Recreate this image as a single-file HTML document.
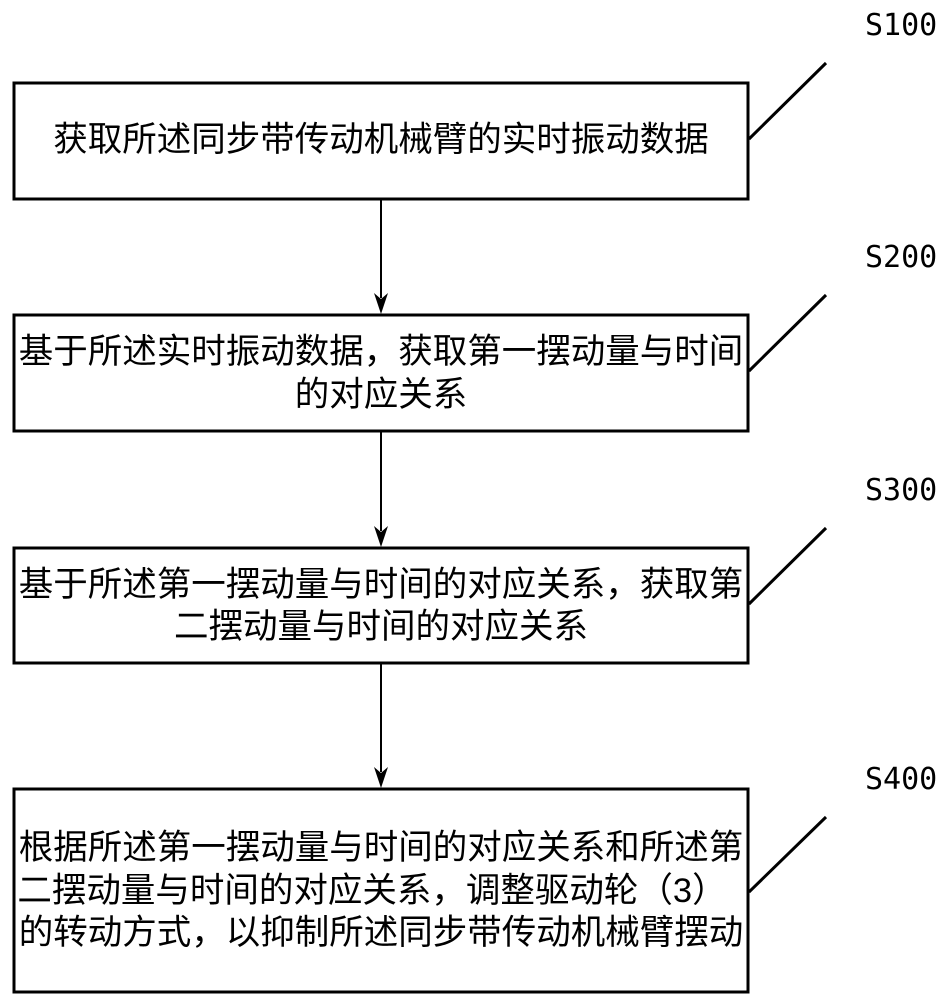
<!DOCTYPE html>
<html><head><meta charset="utf-8"><style>
html,body{margin:0;padding:0;background:#fff;}
svg{display:block;}
.t{font-family:"Liberation Sans","Noto Sans CJK SC",sans-serif;font-size:34.5px;fill:#000;}
.s{font-family:"DejaVu Sans Mono","Liberation Mono",monospace;font-size:30px;fill:#000;}
</style></head><body>
<svg width="949" height="1000" viewBox="0 0 949 1000" xmlns="http://www.w3.org/2000/svg">
<g fill="none" stroke="#000" stroke-width="3">
<rect x="14" y="83" width="734" height="116"/>
<rect x="14" y="315" width="734" height="116"/>
<rect x="14" y="548" width="734" height="115"/>
<rect x="14" y="789" width="734" height="203"/>
</g>
<g stroke="#000" stroke-width="2">
<line x1="381" y1="200" x2="381" y2="298"/>
<line x1="381" y1="432" x2="381" y2="531"/>
<line x1="381" y1="664" x2="381" y2="772"/>
</g>
<g fill="#000">
<path d="M374,293 L381,314 L388,293 L381,299 Z"/>
<path d="M374,526 L381,547 L388,526 L381,532 Z"/>
<path d="M374,767 L381,788 L388,767 L381,773 Z"/>
</g>
<g stroke="#000" stroke-width="3">
<line x1="749" y1="139" x2="826" y2="63"/>
<line x1="749" y1="371" x2="826" y2="295"/>
<line x1="749" y1="604" x2="826" y2="528"/>
<line x1="749" y1="892" x2="826" y2="817"/>
</g>
<g class="s">
<text x="865" y="35">S100</text>
<text x="865" y="267">S200</text>
<text x="865" y="500">S300</text>
<text x="865" y="789">S400</text>
</g>
<g class="t" text-anchor="middle" dominant-baseline="central">
<text x="381" y="140">获取所述同步带传动机械臂的实时振动数据</text>
<text x="381" y="352">基于所述实时振动数据，获取第一摆动量与时间</text>
<text x="381" y="395">的对应关系</text>
<text x="381" y="585">基于所述第一摆动量与时间的对应关系，获取第</text>
<text x="381" y="627">二摆动量与时间的对应关系</text>
<text x="381" y="848">根据所述第一摆动量与时间的对应关系和所述第</text>
<text x="372" y="891">二摆动量与时间的对应关系，调整驱动轮（3）</text>
<text x="381" y="933">的转动方式，以抑制所述同步带传动机械臂摆动</text>
</g>
</svg>
</body></html>
